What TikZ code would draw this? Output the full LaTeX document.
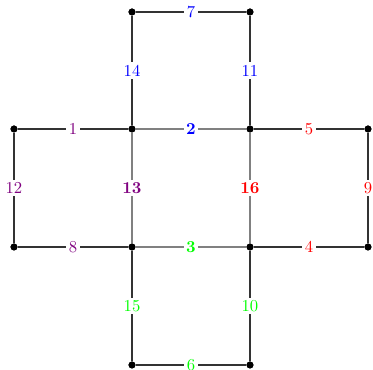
\documentclass[tikz,border=0pt]{standalone}
\begin{document}
\begin{tikzpicture}[x=0.6pt,y=-0.6pt,
  dot/.style={circle,fill=black,inner sep=0pt,minimum size=4.2pt},
  outer/.style={draw=black!80,line width=1pt},
  inner/.style={draw=black!50,line width=0.8pt},
  lab/.style={fill=white,inner sep=1.5pt,font=\normalsize},
  blab/.style={lab,font=\normalsize\bfseries}]
\useasboundingbox (0,0) rectangle (373,370);
\node[dot] (a) at (132,12) {};
\node[dot] (b) at (250,12) {};
\node[dot] (c) at (14,129) {};
\node[dot] (d) at (132,129) {};
\node[dot] (e) at (250,129) {};
\node[dot] (f) at (368,129) {};
\node[dot] (g) at (14,247) {};
\node[dot] (h) at (132,247) {};
\node[dot] (i) at (250,247) {};
\node[dot] (j) at (368,247) {};
\node[dot] (k) at (132,365) {};
\node[dot] (l) at (250,365) {};
% inner edges
\draw[inner] (d) -- node[blab,text=blue]{2} (e);
\draw[inner] (d) -- node[blab,text=violet]{13} (h);
\draw[inner] (e) -- node[blab,text=red]{16} (i);
\draw[inner] (h) -- node[blab,text=green]{3} (i);
% outer edges
\draw[outer] (a) -- node[lab,text=blue]{7} (b);
\draw[outer] (a) -- node[lab,text=blue]{14} (d);
\draw[outer] (b) -- node[lab,text=blue]{11} (e);
\draw[outer] (c) -- node[lab,text=violet]{1} (d);
\draw[outer] (e) -- node[lab,text=red]{5} (f);
\draw[outer] (c) -- node[lab,text=violet]{12} (g);
\draw[outer] (f) -- node[lab,text=red]{9} (j);
\draw[outer] (g) -- node[lab,text=violet]{8} (h);
\draw[outer] (i) -- node[lab,text=red]{4} (j);
\draw[outer] (h) -- node[lab,text=green]{15} (k);
\draw[outer] (i) -- node[lab,text=green]{10} (l);
\draw[outer] (k) -- node[lab,text=green]{6} (l);
% redraw dots on top
\foreach \n in {a,b,c,d,e,f,g,h,i,j,k,l} \fill (\n) circle (2.1pt);
\end{tikzpicture}
\end{document}
